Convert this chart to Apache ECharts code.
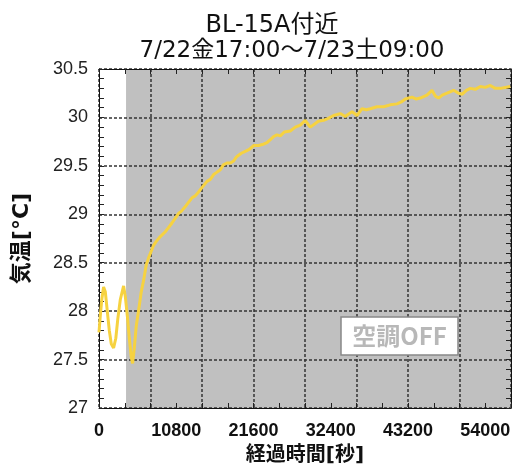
<!DOCTYPE html>
<html>
<head>
<meta charset="utf-8">
<script src="https://cdn.jsdelivr.net/npm/echarts@6/dist/echarts.min.js"></script>
<style>html,body{margin:0;padding:0;background:#fff;}#c{width:512px;height:466px;}</style>
</head>
<body>
<div id="c"></div>
<script>
// elapsed time [s] and temperature [°C]
const times = [0,180,390,640,880,1160,1440,1720,2040,2350,2630,2980,3440,3680,3960,4240,4520,4700,4935,5215,5540,5910,6240,6610,6930,7630,8010,8570,9270,9690,10200,10670,11130,11500,12070,12480,13000,13460,13920,14440,15100,15560,16020,16400,16960,17380,17890,18360,18820,19190,19520,19890,20450,21010,21610,22310,22830,23490,23950,24370,24880,25350,25900,26740,27440,28140,28840,29120,29540,30100,30660,31400,32060,32800,33310,33730,34430,35370,36070,36770,37370,37930,38860,39790,40720,41660,42260,42820,43760,44360,44920,45850,46550,47020,47480,47990,48650,49570,50270,50790,51350,51910,52610,53310,54000,54700,55400,56100,56800,57500];
const temps = [27.78,27.95,28.12,28.25,28.20,28.00,27.80,27.66,27.62,27.72,27.92,28.12,28.26,28.15,27.95,27.72,27.52,27.46,27.62,27.85,28.01,28.20,28.32,28.48,28.55,28.68,28.72,28.77,28.82,28.86,28.91,28.96,29.01,29.03,29.08,29.12,29.17,29.19,29.23,29.28,29.34,29.36,29.41,29.43,29.46,29.51,29.53,29.53,29.55,29.59,29.61,29.63,29.65,29.67,29.71,29.71,29.72,29.74,29.77,29.80,29.82,29.81,29.85,29.86,29.90,29.92,29.97,29.94,29.90,29.93,29.96,29.97,29.99,30.02,30.03,30.04,30.01,30.06,30.02,30.09,30.08,30.09,30.11,30.11,30.13,30.14,30.16,30.19,30.21,30.19,30.20,30.23,30.28,30.22,30.20,30.23,30.25,30.28,30.25,30.24,30.28,30.30,30.29,30.32,30.31,30.33,30.30,30.30,30.31,30.32];
// air conditioning OFF period
const acOffStart = 3780;
const xMax = 57600;
const xLabelValues = [0, 10800, 21600, 32400, 43200, 54000];
const yMin = 27, yMax = 30.5;
const titleLine1 = 'BL-15A付近';
const titleLine2 = '7/22金17:00～7/23土09:00';
const annotation = '空調OFF';

const chart = echarts.init(document.getElementById('c'));
const JP = '"DejaVu Sans", "Noto Sans CJK JP", sans-serif';
const NUM = '"Liberation Sans", Arial, sans-serif';
const gridLine = {show: true, lineStyle: {color: '#333', width: 1.5, type: [3, 2]}};
const tickStyle = {color: '#222', width: 1};

chart.setOption({
  animation: false,
  grid: {left: 99, top: 69, width: 412, height: 339, containLabel: false, outerBoundsMode: 'none'},
  xAxis: [
    {
      type: 'value', min: 0, max: xMax, interval: 7200, position: 'bottom', z: 1,
      axisLine: {show: true, onZero: false, lineStyle: {color: '#111', width: 1}},
      axisTick: {show: true, inside: true, length: 5, lineStyle: tickStyle},
      minorTick: {show: true, splitNumber: 2, length: 5, lineStyle: tickStyle},
      splitLine: gridLine,
      axisLabel: {customValues: xLabelValues, formatter: v => String(v), margin: 14, fontFamily: NUM, fontSize: 18, fontWeight: 'bold', color: '#111'},
      name: '経過時間[秒]', nameLocation: 'middle', nameGap: 38,
      nameTextStyle: {fontFamily: JP, fontSize: 20, fontWeight: 'bold', color: '#111'}
    },
    {
      type: 'value', min: 0, max: xMax, interval: 7200, position: 'top', z: 1,
      axisLine: {show: true, onZero: false, lineStyle: {color: '#111', width: 1}},
      axisTick: {show: true, inside: true, length: 5, lineStyle: tickStyle},
      minorTick: {show: true, splitNumber: 2, length: 5, lineStyle: tickStyle},
      splitLine: {show: false}, axisLabel: {show: false}
    }
  ],
  yAxis: [
    {
      type: 'value', min: yMin, max: yMax, interval: 0.5, position: 'left', z: 1,
      axisLine: {show: true, onZero: false, lineStyle: {color: '#111', width: 1}},
      axisTick: {show: true, inside: true, length: 5, lineStyle: tickStyle},
      minorTick: {show: true, splitNumber: 5, length: 5, lineStyle: tickStyle},
      splitLine: gridLine,
      axisLabel: {margin: 11, fontFamily: NUM, fontSize: 18, color: '#222'},
      name: '気温[°C]', nameLocation: 'middle', nameGap: 66, nameRotate: 90,
      nameTextStyle: {fontFamily: JP, fontSize: 22, fontWeight: 'bold', color: '#111'}
    },
    {
      type: 'value', min: yMin, max: yMax, interval: 0.5, position: 'right', z: 1,
      axisLine: {show: true, onZero: false, lineStyle: {color: '#111', width: 1}},
      axisTick: {show: true, inside: true, length: 5, lineStyle: tickStyle},
      minorTick: {show: true, splitNumber: 5, length: 5, lineStyle: tickStyle},
      splitLine: {show: false}, axisLabel: {show: false}
    }
  ],
  series: [
    {
      type: 'line', z: 0, silent: true, symbol: 'none',
      data: [[acOffStart, yMax], [xMax, yMax]],
      lineStyle: {width: 0, opacity: 0},
      areaStyle: {color: '#c0c0c0', opacity: 1, origin: 'start'}
    },
    {
      type: 'line', z: 2, symbol: 'none', silent: true,
      data: times.map((t, i) => [t, temps[i]]),
      lineStyle: {color: '#f6d240', width: 3}
    }
  ],
  graphic: [
    {type: 'text', x: 272, y: 26, z: 100, style: {text: titleLine1, fill: '#111', font: '24px "DejaVu Sans", "Noto Sans CJK JP", sans-serif', align: 'center', verticalAlign: 'middle'}},
    {type: 'text', x: 292, y: 51, z: 100, style: {text: titleLine2, fill: '#111', font: '23px "DejaVu Sans", "Noto Sans CJK JP", sans-serif', align: 'center', verticalAlign: 'middle'}},
    {type: 'rect', z: 100, shape: {x: 341, y: 317, width: 117, height: 38}, style: {fill: '#fff', stroke: '#888', lineWidth: 1.5}},
    {type: 'text', x: 399.5, y: 336, z: 101, style: {text: annotation, fill: '#b8b8b8', font: 'bold 24px "Noto Sans CJK JP", sans-serif', align: 'center', verticalAlign: 'middle'}}
  ]
});
</script>
</body>
</html>
